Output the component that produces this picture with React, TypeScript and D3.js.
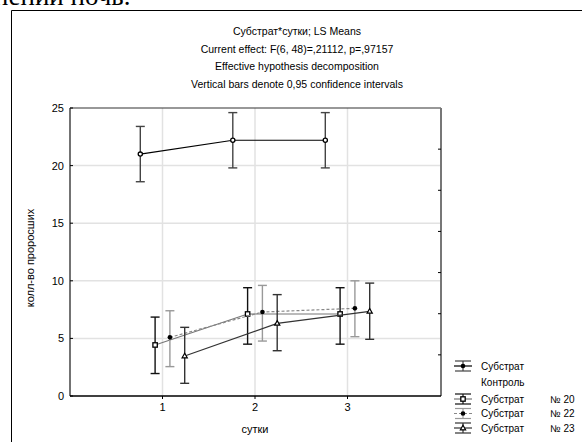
import * as d3 from 'd3';
import * as React from 'react';

// days on the x axis
const days = [1, 2, 3];
const yTicks = [0, 5, 10, 15, 20, 25];
const rightTicks = [1, 2, 3, 4, 5, 6];

const titleLines = [
    'Субстрат*сутки; LS Means',
    'Current effect: F(6, 48)=,21112, p=,97157',
    'Effective hypothesis decomposition',
    'Vertical bars denote 0,95 confidence intervals',
];

// means and 95% CI per series
const controlMean = [21.0, 22.2, 22.2];
const controlLow = [18.6, 19.8, 19.8];
const controlHigh = [23.4, 24.6, 24.6];

const s20Mean = [4.43, 7.12, 7.12];
const s20Low = [1.95, 4.5, 4.5];
const s20High = [6.85, 9.4, 9.4];

const s22Mean = [5.09, 7.29, 7.61];
const s22Low = [2.55, 4.77, 5.15];
const s22High = [7.4, 9.6, 10.0];

const s23Mean = [3.47, 6.3, 7.35];
const s23Low = [1.1, 3.93, 4.92];
const s23High = [5.96, 8.8, 9.8];

type Marker = 'openCircle' | 'square' | 'dot' | 'triangle';

interface Series {
    name: string;
    name2?: string;
    suffix?: string;
    mean: number[];
    low: number[];
    high: number[];
    offset: number;
    marker: Marker;
    lineColor: string;
    dash?: string;
    barColor: string;
}

const series: Series[] = [
    {name: 'Субстрат', name2: 'Контроль', mean: controlMean, low: controlLow, high: controlHigh, offset: -0.24, marker: 'openCircle', lineColor: '#000', barColor: '#444'},
    {name: 'Субстрат', suffix: '№ 20', mean: s20Mean, low: s20Low, high: s20High, offset: -0.08, marker: 'square', lineColor: '#777', barColor: '#111'},
    {name: 'Субстрат', suffix: '№ 22', mean: s22Mean, low: s22Low, high: s22High, offset: 0.08, marker: 'dot', lineColor: '#888', dash: '3,2', barColor: '#999'},
    {name: 'Субстрат', suffix: '№ 23', mean: s23Mean, low: s23Low, high: s23High, offset: 0.24, marker: 'triangle', lineColor: '#333', barColor: '#333'},
];

const legendY = [366, 399, 413.5, 428];

const left = 70;
const right = 441;
const top = 108;
const bottom = 396;
const font = 'Arial, "Liberation Sans", sans-serif';

function MarkerShape({type, cx, cy}: {type: Marker, cx: number, cy: number}) {
    if (type === 'openCircle') {
        return <circle cx={cx} cy={cy} r={2.1} fill='#fff' stroke='#000' strokeWidth={1.3} />;
    }
    if (type === 'dot') {
        return <circle cx={cx} cy={cy} r={2.3} fill='#000' />;
    }
    if (type === 'square') {
        return <rect x={cx - 2.2} y={cy - 2.2} width={4.4} height={4.4} fill='#fff' stroke='#000' strokeWidth={1.3} />;
    }
    return <path d={`M${cx},${cy - 2.8}L${cx + 2.6},${cy + 1.8}L${cx - 2.6},${cy + 1.8}Z`} fill='#fff' stroke='#000' strokeWidth={1.2} />;
}

export default function App() {
    const width = 582;
    const height = 442;

    const x = d3.scaleLinear().domain([0, 4]).range([left, right - 1]);
    const y = d3.scaleLinear().domain([0, 25]).range([bottom, top]);
    const yr = d3.scaleLinear().domain([0, 7]).range([bottom, top]);

    const line = (s: Series) => d3.line<number>()
        .x((_, i) => x(days[i] + s.offset))
        .y((d) => y(d))(s.mean) || '';

    const cap = 4.5;

    return (
        <svg width={width} height={height} style={{position: 'absolute', left: 0, top: 0, background: '#fff'}}>
            <text x={-6} y={4.5} fontFamily='"Liberation Serif", "Times New Roman", serif' fontSize={27}>нении ночь.</text>
            <path d={`M11.5,${height}V10.5H${width}`} fill='none' stroke='#000' strokeWidth={1} />

            {titleLines.map((t, i) => (
                <text key={i} x={297} y={35 + i * 17.5} textAnchor='middle' fontFamily={font} fontSize={10.5} fill='#000'>{t}</text>
            ))}

            {/* grid */}
            {yTicks.filter((t) => t > 0 && t < 25).map((t) => (
                <line key={t} x1={left} x2={right} y1={y(t)} y2={y(t)} stroke='#e2e2e2' strokeWidth={1.5} />
            ))}
            {days.map((d) => (
                <line key={d} x1={x(d)} x2={x(d)} y1={top} y2={bottom} stroke='#e2e2e2' strokeWidth={1.5} />
            ))}

            {/* frame */}
            <line x1={left} x2={right} y1={top} y2={top} stroke='#333' strokeWidth={1.2} />
            <line x1={right} x2={right} y1={top} y2={bottom} stroke='#777' strokeWidth={2} />
            <line x1={left} x2={left} y1={top} y2={bottom} stroke='#444' strokeWidth={1.5} />
            <line x1={left} x2={right} y1={bottom} y2={bottom} stroke='#000' strokeWidth={1.5} />
            {rightTicks.map((t) => (
                <line key={t} x1={right - 3} x2={right} y1={yr(t)} y2={yr(t)} stroke='#000' strokeWidth={1} />
            ))}

            {yTicks.map((t) => (
                <g key={t}>
                    <line x1={left} x2={left + 3} y1={y(t)} y2={y(t)} stroke='#000' />
                    <text x={left - 6} y={y(t) + 4} textAnchor='end' fontFamily={font} fontSize={11}>{t}</text>
                </g>
            ))}
            {days.map((d) => (
                <g key={d}>
                    <line x1={x(d)} x2={x(d)} y1={bottom} y2={bottom + 3} stroke='#000' />
                    <text x={x(d)} y={bottom + 15} textAnchor='middle' fontFamily={font} fontSize={11}>{d}</text>
                </g>
            ))}
            <text x={x(2)} y={433} textAnchor='middle' fontFamily={font} fontSize={11}>сутки</text>
            <text transform={`translate(34,258) rotate(-90)`} textAnchor='middle' fontFamily={font} fontSize={11}>колл-во проросших</text>

            {/* series */}
            {series.map((s, si) => (
                <g key={si}>
                    <path d={line(s)} fill='none' stroke={s.lineColor} strokeWidth={1.2} strokeDasharray={s.dash} />
                    {s.mean.map((m, i) => {
                        const cx = x(days[i] + s.offset);
                        return (
                            <g key={i}>
                                <g stroke={s.barColor} strokeWidth={1.4}>
                                    <line x1={cx} x2={cx} y1={y(s.low[i])} y2={y(s.high[i])} />
                                    <line x1={cx - cap} x2={cx + cap} y1={y(s.low[i])} y2={y(s.low[i])} />
                                    <line x1={cx - cap} x2={cx + cap} y1={y(s.high[i])} y2={y(s.high[i])} />
                                </g>
                                <MarkerShape type={s.marker} cx={cx} cy={y(m)} />
                            </g>
                        );
                    })}
                </g>
            ))}

            {/* legend */}
            {series.map((s, si) => {
                const ly = legendY[si];
                const lx = 463;
                return (
                    <g key={si}>
                        <g stroke={s.barColor} strokeWidth={1.2}>
                            <line x1={lx} x2={lx} y1={ly - 5} y2={ly + 5} />
                            <line x1={lx - 8} x2={lx + 8} y1={ly - 5} y2={ly - 5} />
                            <line x1={lx - 8} x2={lx + 8} y1={ly + 5} y2={ly + 5} />
                        </g>
                        <line x1={lx - 9} x2={lx + 9} y1={ly} y2={ly} stroke={s.lineColor} strokeWidth={1.2} strokeDasharray={s.dash} />
                        <MarkerShape type={s.marker === 'openCircle' ? 'dot' : s.marker} cx={lx} cy={ly} />
                        <text x={481} y={ly + 3.5} fontFamily={font} fontSize={10}>{s.name}</text>
                        {s.name2 ? <text x={481} y={ly + 20} fontFamily={font} fontSize={10}>{s.name2}</text> : null}
                        {s.suffix ? <text x={550} y={ly + 3.5} fontFamily={font} fontSize={10}>{s.suffix}</text> : null}
                    </g>
                );
            })}
        </svg>
    );
}
